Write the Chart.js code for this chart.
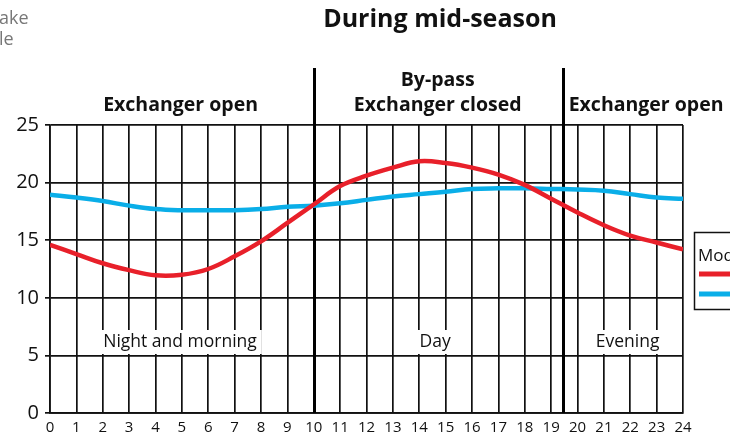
<!DOCTYPE html>
<html><head><meta charset="utf-8">
<script src="https://cdn.jsdelivr.net/npm/chart.js@4/dist/chart.umd.min.js"></script>
<style>html,body{margin:0;padding:0;background:#fff;}#wrap{width:730px;height:441px;position:relative;}</style>
</head><body><div id="wrap"><canvas id="c" width="730" height="441"></canvas></div>
<script>
const hours = [0,1,2,3,4,5,6,7,8,9,10,11,12,13,14,15,16,17,18,19,20,21,22,23,24];
const redSeries = [14.6,13.8,13.0,12.4,11.95,12.0,12.5,13.6,14.9,16.5,18.1,19.7,20.6,21.3,21.85,21.7,21.3,20.7,19.8,18.6,17.4,16.3,15.4,14.8,14.2];
const blueSeries = [18.95,18.7,18.4,18.0,17.7,17.6,17.6,17.6,17.7,17.9,18.0,18.2,18.5,18.8,19.0,19.2,19.45,19.5,19.5,19.45,19.4,19.3,19.0,18.7,18.6];
const xTickLabels = ['0','1','2','3','4','5','6','7','8','9','10','11','12','13','14','15','16','17','18','19','20','21','22','23','24'];
const yTickLabels = ['0','5','10','15','20','25'];
const dividers = [10, 19.45];
const periodLabels = ['Night and morning','Day','Evening'];
const periodCenters = [4.93, 14.6, 21.9];
const modeLabels = [['Exchanger open'], ['By-pass','Exchanger closed'], ['Exchanger open']];
const modeCenters = [4.95, 14.7, 22.6];

const FONT = "'Open Sans', 'Noto Sans', sans-serif";

const decor = {
  id: 'decor',
  beforeDatasetsDraw(chart) {
    const ctx = chart.ctx, x = chart.scales.x, y = chart.scales.y;
    ctx.save();
    ctx.font = "17.5px " + FONT;
    ctx.textAlign = 'center';
    ctx.textBaseline = 'middle';
    periodLabels.forEach((t, i) => {
      const cx = x.getPixelForValue(periodCenters[i]);
      const cy = 342;
      const w = ctx.measureText(t).width + 10;
      ctx.fillStyle = '#fff';
      ctx.fillRect(cx - w/2, cy - 12, w, 24);
      ctx.fillStyle = '#111';
      ctx.fillText(t, cx, cy);
    });
    ctx.strokeStyle = '#000';
    ctx.lineWidth = 3;
    dividers.forEach(d => {
      const px = Math.round(x.getPixelForValue(d)) + 0.5;
      ctx.beginPath();
      ctx.moveTo(px, 68);
      ctx.lineTo(px, y.getPixelForValue(0));
      ctx.stroke();
    });
    ctx.restore();
  },
  afterDraw(chart) {
    const ctx = chart.ctx, x = chart.scales.x;
    ctx.save();
    ctx.fillStyle = '#111';
    ctx.textAlign = 'center';
    ctx.textBaseline = 'middle';
    ctx.font = "bold 25px " + FONT;
    ctx.fillText('During mid-season', 440, 20);
    ctx.font = "bold 19.5px " + FONT;
    modeLabels.forEach((lines, i) => {
      const cx = x.getPixelForValue(modeCenters[i]);
      lines.forEach((t, j) => {
        const cy = 105 - (lines.length - 1 - j) * 25;
        ctx.fillText(t, cx, cy);
      });
    });
    ctx.fillStyle = '#777';
    ctx.textAlign = 'left';
    ctx.font = "18px " + FONT;
    ctx.fillText('ake', -1, 19);
    ctx.fillText('le', -1, 40);
    ctx.strokeStyle = '#111';
    ctx.lineWidth = 1.5;
    ctx.strokeRect(694.5, 232.5, 60, 77);
    ctx.fillStyle = '#111';
    ctx.font = "17px " + FONT;
    ctx.fillText('Mode', 698, 256);
    chart.data.datasets.forEach((ds, i) => {
      ctx.strokeStyle = ds.borderColor;
      ctx.lineWidth = 5;
      ctx.beginPath();
      const ly = 274 + i * 20;
      ctx.moveTo(699, ly);
      ctx.lineTo(740, ly);
      ctx.stroke();
    });
    ctx.restore();
  }
};

new Chart(document.getElementById('c'), {
  type: 'line',
  data: {
    labels: hours,
    datasets: [
      { label: 'Red', data: hours.map((h, i) => ({x: h, y: redSeries[i]})), borderColor: '#e8202a', borderWidth: 4.5, pointRadius: 0, tension: 0.4, fill: false },
      { label: 'Blue', data: hours.map((h, i) => ({x: h, y: blueSeries[i]})), borderColor: '#0aaee8', borderWidth: 4.5, pointRadius: 0, tension: 0.4, fill: false }
    ]
  },
  options: {
    responsive: false,
    animation: false,
    layout: { padding: { top: 125, right: 47, left: 0, bottom: 0 } },
    plugins: { legend: { display: false }, tooltip: { enabled: false } },
    scales: {
      x: {
        type: 'linear', min: 0, max: 24,
        afterFit(a) { a.height = 28; },
        afterBuildTicks(a) { a.ticks = xTickLabels.map(v => ({ value: Number(v) })); },
        ticks: { color: '#111', font: { size: 15, family: FONT }, padding: 6, maxRotation: 0, autoSkip: false, callback: (v, i) => xTickLabels[i] },
        grid: { color: '#111', lineWidth: 1.7, drawTicks: false },
        border: { color: '#111', width: 1.7 }
      },
      y: {
        min: 0, max: 25,
        afterFit(a) { a.width = 50; },
        afterBuildTicks(a) { a.ticks = yTickLabels.map(v => ({ value: Number(v) })); },
        ticks: { color: '#111', font: { size: 20, family: FONT }, padding: 6, callback: (v, i) => yTickLabels[i] },
        grid: { color: '#111', lineWidth: 1.7, tickLength: 5 },
        border: { color: '#111', width: 1.7 }
      }
    }
  },
  plugins: [decor]
});
</script></body></html>
